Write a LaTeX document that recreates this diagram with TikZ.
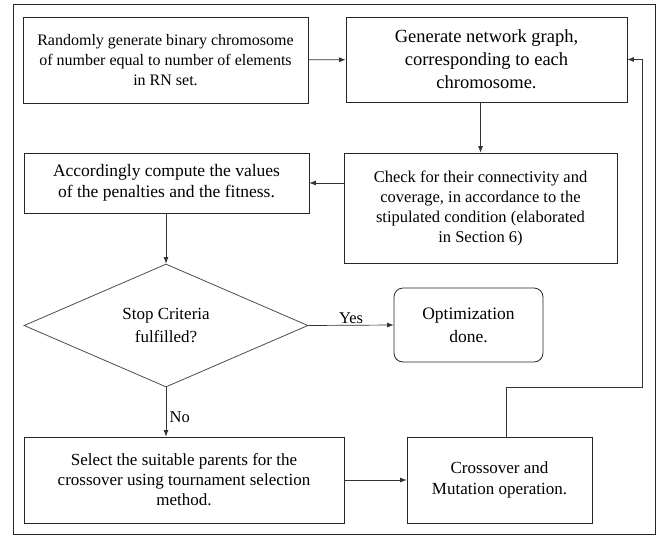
\documentclass[tikz,border=0pt]{standalone}
\usepackage{fontspec}
\setmainfont{Liberation Serif}
\usetikzlibrary{arrows.meta, positioning, shapes.geometric}

\begin{document}
\begin{tikzpicture}[
        x=1pt, y=-1pt,
        >={Latex[length=6.5pt,width=5pt]},
        box/.style={draw=black!85, line width=0.8pt, align=center, inner sep=2pt},
        endbox/.style={box, rounded corners=9pt},
        decision/.style={draw=black!70, line width=0.8pt, diamond, align=center, inner sep=0pt},
        flow/.style={->, draw=black!80, line width=0.7pt},
        lbl/.style={font=\rmfamily\fontsize{16.5}{18}\selectfont}
    ]
        \useasboundingbox (0,0) rectangle (663,536);
        \draw[black!85, line width=0.8pt] (13,4) rectangle (655,534);

        \node[box, minimum width=285pt, minimum height=86pt, font=\rmfamily\fontsize{16}{20}\selectfont] (init) at (165.5,60) {Randomly generate binary chromosome\\of number equal to number of elements\\in RN set.};
        \node[box, minimum width=281pt, minimum height=85pt, font=\rmfamily\fontsize{18.5}{23}\selectfont] (graph) at (486.5,59.5) {Generate network graph,\\corresponding to each\\chromosome.};
        \node[box, minimum width=285pt, minimum height=60pt, font=\rmfamily\fontsize{17.5}{21.5}\selectfont] (fitness) at (166.5,183) {Accordingly compute the values\\of the penalties and the fitness.};
        \node[box, minimum width=273pt, minimum height=110pt, font=\rmfamily\fontsize{16.5}{20}\selectfont] (check) at (480.5,208) {Check for their connectivity and\\coverage, in accordance to the\\stipulated condition (elaborated\\in Section 6)};
        \node[decision, minimum width=284pt, minimum height=123pt, font=\rmfamily\fontsize{17}{23}\selectfont] (stop) at (166,325.5) {Stop Criteria\\fulfilled?};
        \node[endbox, minimum width=149pt, minimum height=74pt, font=\rmfamily\fontsize{17.5}{23}\selectfont] (done) at (468.5,325) {Optimization\\done.};
        \node[box, minimum width=320pt, minimum height=86pt, font=\rmfamily\fontsize{17}{20}\selectfont] (select) at (184,480) {Select the suitable parents for the\\crossover using tournament selection\\method.};
        \node[box, minimum width=185pt, minimum height=86pt, font=\rmfamily\fontsize{17}{21}\selectfont] (cross) at (499.5,480) {Crossover and\\Mutation operation.};
        \coordinate (loop) at (642,387);

        \draw[flow] (init) -- (graph);
        \draw[flow] (check.north |- graph.south) -- (check.north);
        \draw[flow] (check.west |- fitness.east) -- (fitness.east);
        \draw[flow] (fitness.south -| stop.north) -- (stop.north);
        \draw[flow] (stop.east) -- node[lbl, above, pos=0.5, inner sep=1pt] {Yes} (done.west);
        \draw[flow] (stop.south) -- node[lbl, right, pos=0.6] {No} (stop.south |- select.north);
        \draw[flow] (select.east |- cross.west) -- (cross.west);
        \draw[flow] ([xshift=6.5pt]cross.north) |- (loop) |- (graph.east);
    \end{tikzpicture}
\end{document}
